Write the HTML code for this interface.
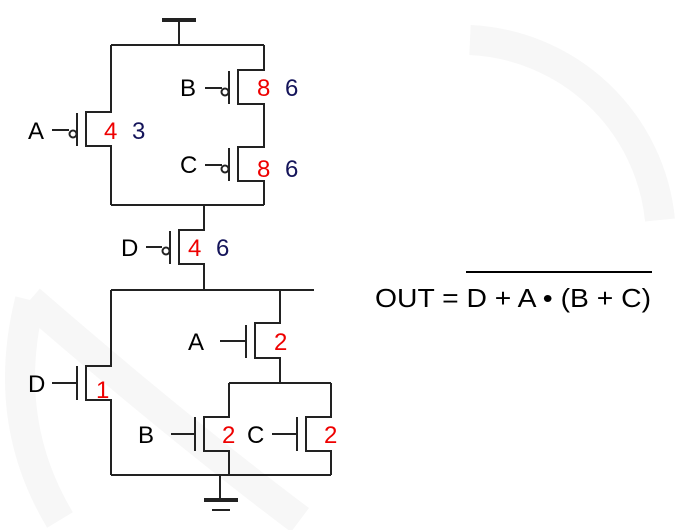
<!DOCTYPE html>
<html><head><meta charset="utf-8"><style>
html,body{margin:0;padding:0;background:#fff;}
svg{display:block;}
text{font-family:"Liberation Sans",sans-serif;}
</style></head><body>
<svg width="684" height="530" viewBox="0 0 684 530">
<g fill="none" stroke="#f7f7f7" stroke-width="30">
<path d="M470 40 A200 200 0 0 1 660 220"/>
<path d="M300 520 Q180 430 30 300"/>
<path d="M30 300 Q0 420 60 520"/>
</g>
<g stroke="#222" stroke-width="2" fill="none">
<line x1="162" y1="20" x2="196" y2="20" stroke-width="4"/>
<line x1="179" y1="20" x2="179" y2="45"/>
<line x1="111" y1="45" x2="264" y2="45"/>
<polyline points="111,45 111,112 86,112 86,146 111,146 111,205"/>
<line x1="77" y1="113" x2="77" y2="146"/>
<line x1="52" y1="130" x2="69" y2="130"/>
<circle cx="73" cy="134" r="3.5"/>
<polyline points="264,45 264,70 238,70 238,104 264,104 264,147 238,147 238,181 264,181 264,205"/>
<line x1="229" y1="71" x2="229" y2="104"/>
<line x1="205" y1="88" x2="222" y2="88"/>
<circle cx="225" cy="92" r="3.5"/>
<line x1="229" y1="148" x2="229" y2="181"/>
<line x1="205" y1="165" x2="222" y2="165"/>
<circle cx="225" cy="169" r="3.5"/>
<line x1="111" y1="205" x2="264" y2="205"/>
<polyline points="204,205 204,230 179,230 179,264 204,264 204,290"/>
<line x1="170" y1="231" x2="170" y2="264"/>
<line x1="146" y1="247" x2="162" y2="247"/>
<circle cx="166" cy="251" r="3.5"/>
<line x1="111" y1="290" x2="314" y2="290"/>
<polyline points="280,290 280,323 255,323 255,358 280,358 280,383"/>
<line x1="246" y1="325" x2="246" y2="358"/>
<line x1="220" y1="341" x2="246" y2="341"/>
<polyline points="111,290 111,366 86,366 86,400 111,400 111,475"/>
<line x1="77" y1="366" x2="77" y2="400"/>
<line x1="52" y1="383" x2="77" y2="383"/>
<line x1="229" y1="383" x2="331" y2="383"/>
<polyline points="229,383 229,417 204,417 204,451 229,451 229,475"/>
<line x1="195" y1="417" x2="195" y2="451"/>
<line x1="171" y1="434" x2="195" y2="434"/>
<polyline points="331,383 331,417 306,417 306,451 331,451 331,475"/>
<line x1="297" y1="417" x2="297" y2="451"/>
<line x1="272" y1="434" x2="297" y2="434"/>
<line x1="111" y1="475" x2="331" y2="475"/>
<line x1="220" y1="475" x2="220" y2="500"/>
<line x1="204" y1="500" x2="238" y2="500" stroke-width="4"/>
<line x1="212" y1="510" x2="230" y2="510"/>
</g>
<g font-size="24">
<text x="28" y="139" fill="#000">A</text>
<text x="104" y="139" fill="#e00">4</text>
<text x="132" y="139" fill="#14145a">3</text>
<text x="180" y="96" fill="#000">B</text>
<text x="257" y="96" fill="#e00">8</text>
<text x="285" y="96" fill="#14145a">6</text>
<text x="180" y="173" fill="#000">C</text>
<text x="257" y="177" fill="#e00">8</text>
<text x="285" y="177" fill="#14145a">6</text>
<text x="121" y="256" fill="#000">D</text>
<text x="188" y="256" fill="#e00">4</text>
<text x="216" y="256" fill="#14145a">6</text>
<text x="188" y="350" fill="#000">A</text>
<text x="274" y="350" fill="#e00">2</text>
<text x="28" y="392" fill="#000">D</text>
<text x="96" y="398" fill="#e00">1</text>
<text x="138" y="443" fill="#000">B</text>
<text x="222" y="443" fill="#e00">2</text>
<text x="247" y="443" fill="#000">C</text>
<text x="324" y="443" fill="#e00">2</text>
</g>
<g>
<text x="375" y="307" font-size="26" textLength="276" lengthAdjust="spacingAndGlyphs" fill="#000">OUT = D + A • (B + C)</text>
<line x1="466" y1="272" x2="652" y2="272" stroke="#000" stroke-width="2"/>
</g>
</svg>
</body></html>
